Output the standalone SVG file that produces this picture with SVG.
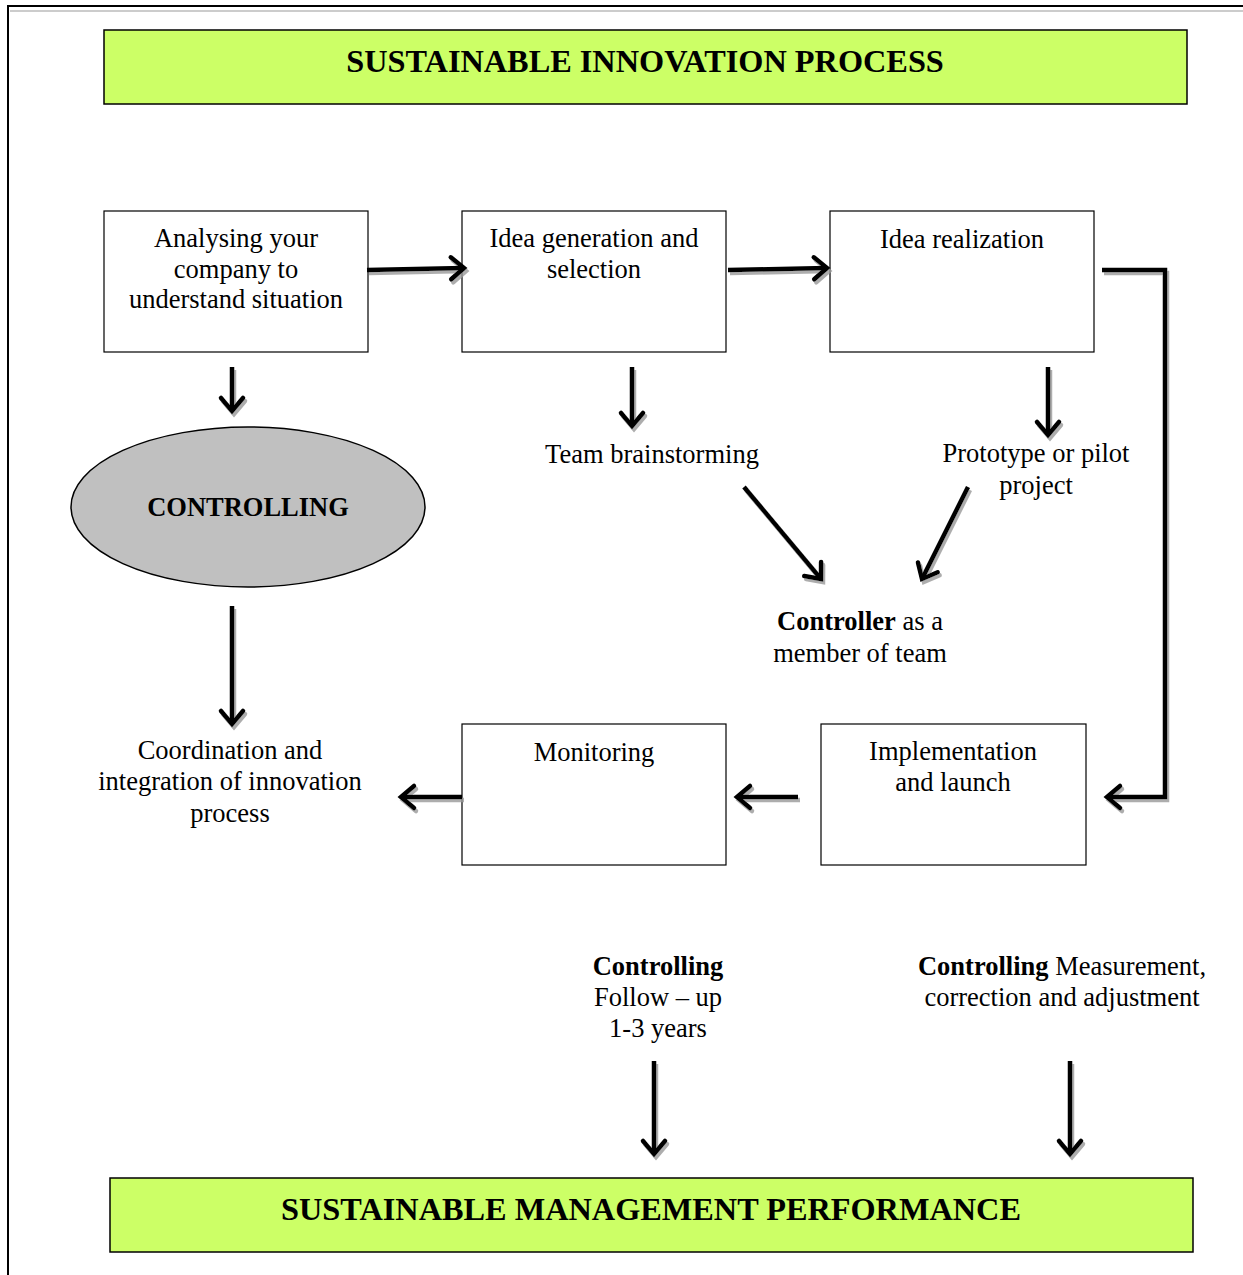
<svg xmlns="http://www.w3.org/2000/svg" width="1243" height="1275" viewBox="0 0 1243 1275">
<defs>
<style>
text{font-family:"Liberation Serif","Times New Roman",serif;fill:#000}
.t{font-size:26.5px;text-anchor:middle}
.h{font-size:32.3px;font-weight:bold;text-anchor:middle}
.b{font-weight:bold}
.box{fill:#fff;stroke:#000;stroke-width:1.2}
.ban{fill:#CCFF66;stroke:#000;stroke-width:1.5}
.c{fill:none;stroke:#000;stroke-width:4.5;marker-end:url(#ah)}
</style>
<marker id="ah" markerUnits="userSpaceOnUse" viewBox="-20 -15 25 30" refX="0" refY="0" markerWidth="25" markerHeight="30" orient="auto" overflow="visible">
<path d="M-13,-11 L0,0 L-13,11" fill="none" stroke="#000" stroke-width="4.5" stroke-linecap="round" stroke-linejoin="miter"/>
</marker>
<filter id="sh" x="-10%" y="-10%" width="130%" height="130%">
<feDropShadow dx="2" dy="3" stdDeviation="0.6" flood-color="#999" flood-opacity="0.8"/>
</filter>
</defs>
<rect width="1243" height="1275" fill="#fff"/>
<g id="frame">
<line x1="8" y1="6" x2="1243" y2="6" stroke="#000" stroke-width="2"/>
<line x1="10" y1="11" x2="1243" y2="11" stroke="#ccc" stroke-width="2"/>
<line x1="8" y1="5" x2="8" y2="1275" stroke="#000" stroke-width="2"/>
</g>
<g id="title">
<rect class="ban" x="104" y="30" width="1083" height="74"/>
<text class="h" x="645" y="72">SUSTAINABLE INNOVATION PROCESS</text>
</g>
<g id="analysing">
<rect class="box" x="104" y="211" width="264" height="141"/>
<text class="t" x="236" y="247">Analysing your</text>
<text class="t" x="236" y="278">company to</text>
<text class="t" x="236" y="308">understand situation</text>
</g>
<g id="ideagen">
<rect class="box" x="462" y="211" width="264" height="141"/>
<text class="t" x="594" y="247">Idea generation and</text>
<text class="t" x="594" y="278">selection</text>
</g>
<g id="idearel">
<rect class="box" x="830" y="211" width="264" height="141"/>
<text class="t" x="962" y="248">Idea realization</text>
</g>
<g id="controlling">
<ellipse cx="248" cy="507" rx="177" ry="80" fill="#C0C0C0" stroke="#000" stroke-width="1.5"/>
<text x="248" y="516" style="font-size:26.5px;font-weight:bold;text-anchor:middle">CONTROLLING</text>
</g>
<g id="team">
<text class="t" x="652" y="463">Team brainstorming</text>
</g>
<g id="prototype">
<text class="t" x="1036" y="462">Prototype or pilot</text>
<text class="t" x="1036" y="494">project</text>
</g>
<g id="controller">
<text class="t" x="860" y="630"><tspan class="b">Controller</tspan> as a</text>
<text class="t" x="860" y="662">member of team</text>
</g>
<g id="coordination">
<text class="t" x="230" y="759">Coordination and</text>
<text class="t" x="230" y="790">integration of innovation</text>
<text class="t" x="230" y="822">process</text>
</g>
<g id="monitoring">
<rect class="box" x="462" y="724" width="264" height="141"/>
<text class="t" x="594" y="761">Monitoring</text>
</g>
<g id="implementation">
<rect class="box" x="821" y="724" width="265" height="141"/>
<text class="t" x="953" y="760">Implementation</text>
<text class="t" x="953" y="791">and launch</text>
</g>
<g id="followup">
<text class="t b" x="658" y="975">Controlling</text>
<text class="t" x="658" y="1006">Follow – up</text>
<text class="t" x="658" y="1037">1-3 years</text>
</g>
<g id="measurement">
<text class="t" x="1062" y="975"><tspan class="b">Controlling</tspan> Measurement,</text>
<text class="t" x="1062" y="1006">correction and adjustment</text>
</g>
<g id="performance">
<rect class="ban" x="110" y="1178" width="1083" height="74"/>
<text class="h" x="651" y="1220">SUSTAINABLE MANAGEMENT PERFORMANCE</text>
</g>
<g id="connectors" filter="url(#sh)">
<path class="c" d="M367,270 L464,268"/>
<path class="c" d="M728,270 L827,268"/>
<path class="c" d="M1102,270 H1165 V797 H1107"/>
<path class="c" d="M232,367 V411"/>
<path class="c" d="M632,367 V426"/>
<path class="c" d="M1048,367 V435"/>
<path class="c" d="M744,487 L821,579"/>
<path class="c" d="M968,487 L922,579"/>
<path class="c" d="M232,606 V724"/>
<path class="c" d="M462,797 H401"/>
<path class="c" d="M798,797 H737"/>
<path class="c" d="M654,1061 V1154"/>
<path class="c" d="M1070,1061 V1154"/>
</g>
</svg>
